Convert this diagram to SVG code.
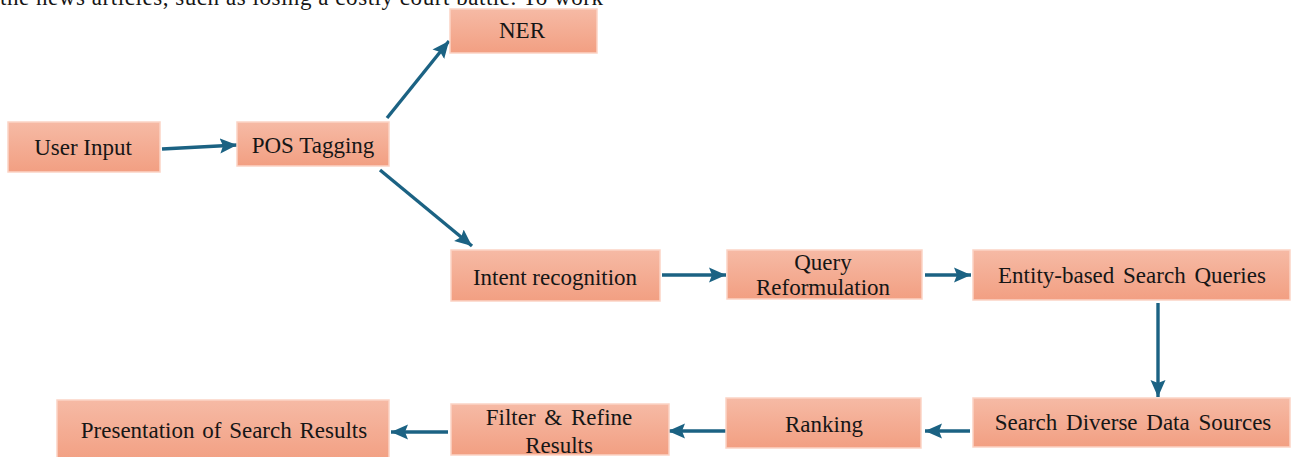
<svg xmlns="http://www.w3.org/2000/svg" width="1293" height="457" viewBox="0 0 1293 457">
<style>
.box{fill:url(#g);stroke:#fbd3c5;stroke-width:1.5}
.t{font-family:"Liberation Serif","Times New Roman",serif;font-size:23px;fill:#161616;text-anchor:middle}
.c{stroke:#1b6283;stroke-width:3.4;fill:none;marker-end:url(#ah)}
</style>
<defs>
<linearGradient id="g" x1="0" y1="0" x2="0" y2="1">
<stop offset="0" stop-color="#f6baa5"/>
<stop offset="1" stop-color="#f29f82"/>
</linearGradient>
<marker id="ah" markerUnits="userSpaceOnUse" markerWidth="18" markerHeight="18" viewBox="0 0 18 18" refX="17" refY="9" orient="auto">
<path d="M0,1.5 L17,9 L0,16.5 L3,9 z" fill="#1b6283"/>
</marker>
</defs>
<text x="0" y="5" textLength="603" lengthAdjust="spacing" style="font-family:'Liberation Serif','Times New Roman',serif;font-size:23px;fill:#161616">the news articles, such as losing a costly court battle. To work</text>
<g id="connectors">
<line class="c" x1="162" y1="149" x2="237" y2="145"/>
<line class="c" x1="387" y1="118" x2="449" y2="41"/>
<line class="c" x1="380" y1="170" x2="472" y2="246"/>
<line class="c" x1="662" y1="275" x2="726" y2="275"/>
<line class="c" x1="925" y1="275" x2="971" y2="275"/>
<line class="c" x1="1158" y1="303" x2="1158" y2="397"/>
<line class="c" x1="970" y1="431" x2="925" y2="431"/>
<line class="c" x1="727" y1="431" x2="668" y2="431"/>
<line class="c" x1="448" y1="432" x2="391" y2="432"/>
</g>
<g id="ner"><rect class="box" x="450" y="9" width="147" height="44"/><text class="t" x="522" y="38">NER</text></g>
<g id="user-input"><rect class="box" x="8" y="122" width="152" height="50"/><text class="t" x="83" y="155">User Input</text></g>
<g id="pos-tagging"><rect class="box" x="237" y="122" width="152" height="44"/><text class="t" x="313" y="153">POS Tagging</text></g>
<g id="intent"><rect class="box" x="451" y="250" width="209" height="51"/><text class="t" x="555" y="285">Intent recognition</text></g>
<g id="query"><rect class="box" x="727" y="250" width="195" height="49"/><text class="t" x="823" y="270">Query</text><text class="t" x="823" y="295">Reformulation</text></g>
<g id="entity"><rect class="box" x="973" y="250" width="317" height="50"/><text class="t" x="1132" y="283" word-spacing="3">Entity-based Search Queries</text></g>
<g id="sds"><rect class="box" x="973" y="398" width="317" height="49"/><text class="t" x="1133" y="430" word-spacing="3">Search Diverse Data Sources</text></g>
<g id="ranking"><rect class="box" x="726" y="398" width="195" height="50"/><text class="t" x="824" y="432">Ranking</text></g>
<g id="filter"><rect class="box" x="451" y="404" width="218" height="51"/><text class="t" x="559" y="425" word-spacing="3">Filter &amp; Refine</text><text class="t" x="559" y="453">Results</text></g>
<g id="presentation"><rect class="box" x="57" y="400" width="332" height="62"/><text class="t" x="224" y="438" word-spacing="2">Presentation of Search Results</text></g>
</svg>
